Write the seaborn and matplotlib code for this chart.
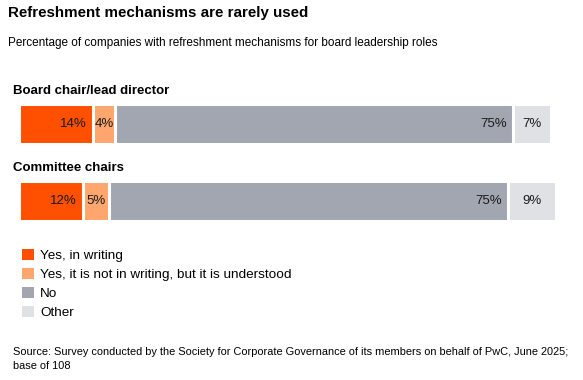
import numpy as np
import pandas as pd
import matplotlib.pyplot as plt
import seaborn as sns
from matplotlib.patches import Patch

roles = ["Board chair/lead director", "Committee chairs"]
series = ["Yes, in writing", "Yes, it is not in writing, but it is understood", "No", "Other"]
yes_writing = [14, 12]
yes_understood = [4, 5]
no = [75, 75]
other = [7, 9]
colors = ["#FE5000", "#FFA66E", "#A2A6B1", "#DFE1E4"]
label_align = ["right", "center", "right", "center"]

sns.set_theme(style="white")
plt.rcParams["font.family"] = ["Liberation Sans", "DejaVu Sans"]
plt.rcParams["text.color"] = "black"

df = pd.DataFrame({"role": roles, series[0]: yes_writing, series[1]: yes_understood,
                   series[2]: no, series[3]: other})
values = df[series].to_numpy()
cum = values.cumsum(axis=1)

fig = plt.figure(figsize=(5.83, 3.80), dpi=100)
ax = fig.add_axes([19 / 583, 1 - 221 / 380, 537 / 583, 117 / 380])

# overplot cumulative bars from the longest to the shortest
for i in range(len(series) - 1, -1, -1):
    sns.barplot(x=cum[:, i], y=df["role"], color=colors[i], orient="h", width=0.52,
                edgecolor="white", linewidth=2.2, saturation=1, ax=ax)

for r in range(len(roles)):
    for i in range(len(series)):
        left = cum[r, i] - values[r, i]
        if label_align[i] == "right":
            xpos, ha = cum[r, i] - 1.2, "right"
        else:
            xpos, ha = left + values[r, i] / 2, "center"
        ax.text(xpos, r, f"{values[r, i]}%", ha=ha, va="center", fontsize=9.5, color="#1a1a1a")

ax.set_xlim(0, 101)
ax.set_ylim(1.26, -0.26)
ax.axis("off")

fig.text(8 / 583, 1 - 13 / 380, "Refreshment mechanisms are rarely used", fontsize=10.9,
         fontweight="bold", va="center", ha="left")
fig.text(8 / 583, 1 - 43 / 380,
         "Percentage of companies with refreshment mechanisms for board leadership roles",
         fontsize=8.45, va="center", ha="left")
fig.text(13 / 583, 1 - 91 / 380, roles[0], fontsize=9.5, fontweight="bold", va="center")
fig.text(13 / 583, 1 - 168 / 380, roles[1], fontsize=9.5, fontweight="bold", va="center")

handles = [Patch(facecolor=c, edgecolor="none") for c in colors]
fig.legend(handles, series, loc="upper left", bbox_to_anchor=(17 / 583, 1 - 244 / 380),
           frameon=False, fontsize=9.7, handlelength=0.85, handleheight=0.85,
           handletextpad=0.45, labelspacing=0.43, borderaxespad=0)

fig.text(13 / 583, 1 - 352 / 380,
         "Source: Survey conducted by the Society for Corporate Governance of its members on behalf of PwC, June 2025;",
         fontsize=7.9, va="center")
fig.text(13 / 583, 1 - 366 / 380, "base of 108", fontsize=7.9, va="center")

fig.savefig("out.png", dpi=100)
